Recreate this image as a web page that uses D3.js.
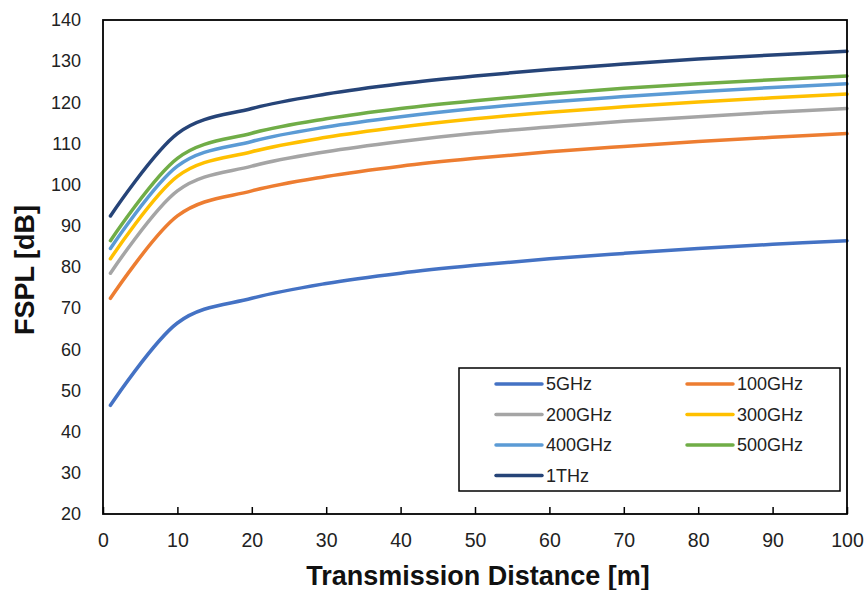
<!DOCTYPE html>
<html>
<head>
<meta charset="utf-8">
<script src="https://cdn.jsdelivr.net/npm/d3@7"></script>
<style>
  body { margin: 0; background: #fff; }
  text { font-family: "Liberation Sans", Arial, sans-serif; }
</style>
</head>
<body>
<svg width="867" height="590"></svg>
<script>
const distances = [1, 10, 20, 30, 40, 50, 60, 70, 80, 90, 100];

const seriesNames = ['5GHz', '100GHz', '200GHz', '300GHz', '400GHz', '500GHz', '1THz'];
const fspl5G   = [46.4, 66.4, 72.4, 76.0, 78.5, 80.4, 82.0, 83.3, 84.5, 85.5, 86.4];
const fspl100G = [72.4, 92.4, 98.5, 102.0, 104.5, 106.4, 108.0, 109.3, 110.5, 111.5, 112.4];
const fspl200G = [78.5, 98.5, 104.5, 108.0, 110.5, 112.5, 114.0, 115.4, 116.5, 117.6, 118.5];
const fspl300G = [82.0, 102.0, 108.0, 111.5, 114.0, 116.0, 117.6, 118.9, 120.1, 121.1, 122.0];
const fspl400G = [84.5, 104.5, 110.5, 114.0, 116.5, 118.5, 120.1, 121.4, 122.6, 123.6, 124.5];
const fspl500G = [86.4, 106.4, 112.5, 116.0, 118.5, 120.4, 122.0, 123.4, 124.5, 125.5, 126.4];
const fspl1T   = [92.4, 112.4, 118.5, 122.0, 124.5, 126.4, 128.0, 129.3, 130.5, 131.5, 132.4];

const xTicks = [0, 10, 20, 30, 40, 50, 60, 70, 80, 90, 100];
const yTicks = [20, 30, 40, 50, 60, 70, 80, 90, 100, 110, 120, 130, 140];

const colors = ['#4472C4', '#ED7D31', '#A5A5A5', '#FFC000', '#5B9BD5', '#70AD47', '#264478'];
const allSeries = [fspl5G, fspl100G, fspl200G, fspl300G, fspl400G, fspl500G, fspl1T];

const svg = d3.select('svg');
const plotL = 103, plotR = 847, plotT = 20, plotB = 514;

const x = d3.scaleLinear().domain([0, 100]).range([plotL, plotR]);
const y = d3.scaleLinear().domain([20, 140]).range([plotB, plotT]);

// lines (smoothed like excel)
const line = d3.line()
    .x(d => x(d[0]))
    .y(d => y(d[1]))
    .curve(d3.curveCardinal);

allSeries.forEach((vals, i) => {
    svg.append('path')
        .attr('d', line(distances.map((d, j) => [d, vals[j]])))
        .attr('fill', 'none')
        .attr('stroke', colors[i])
        .attr('stroke-width', 3.5)
        .attr('stroke-linecap', 'round');
});

// frame
svg.append('rect')
    .attr('x', plotL).attr('y', plotT)
    .attr('width', plotR - plotL).attr('height', plotB - plotT)
    .attr('fill', 'none')
    .attr('stroke', '#000')
    .attr('stroke-width', 1.8);

// x axis
const xAxis = svg.append('g')
    .attr('transform', `translate(0,${plotB})`)
    .call(d3.axisBottom(x).tickValues(xTicks).tickSizeInner(-7).tickSizeOuter(0).tickPadding(19));
xAxis.select('.domain').remove();
xAxis.selectAll('line').attr('stroke', '#000').attr('stroke-width', 1.5);
xAxis.selectAll('text').attr('font-size', 19.5).attr('fill', '#222');

// y axis
const yAxis = svg.append('g')
    .attr('transform', `translate(${plotL},0)`)
    .call(d3.axisLeft(y).tickValues(yTicks).tickSize(0).tickPadding(22));
yAxis.select('.domain').remove();
yAxis.selectAll('text').attr('font-size', 18).attr('fill', '#222');

// titles
svg.append('text')
    .attr('x', 478)
    .attr('y', 585)
    .attr('text-anchor', 'middle')
    .attr('font-size', 27)
    .attr('font-weight', 'bold')
    .attr('fill', '#111')
    .text('Transmission Distance [m]');

svg.append('text')
    .attr('transform', `translate(34,270) rotate(-90)`)
    .attr('text-anchor', 'middle')
    .attr('font-size', 27)
    .attr('font-weight', 'bold')
    .attr('fill', '#111')
    .text('FSPL [dB]');

// legend
const legend = svg.append('g');
legend.append('rect')
    .attr('x', 459).attr('y', 368)
    .attr('width', 381).attr('height', 123)
    .attr('fill', '#fff')
    .attr('stroke', '#000')
    .attr('stroke-width', 1.5);

seriesNames.forEach((name, i) => {
    const col = i % 2, row = Math.floor(i / 2);
    const lx = col === 0 ? 496 : 687;
    const ly = 384 + row * 30.5;
    legend.append('line')
        .attr('x1', lx).attr('x2', lx + 46)
        .attr('y1', ly).attr('y2', ly)
        .attr('stroke', colors[i])
        .attr('stroke-width', 3.5)
        .attr('stroke-linecap', 'round');
    legend.append('text')
        .attr('x', lx + 50)
        .attr('y', ly)
        .attr('dy', '0.36em')
        .attr('font-size', 18)
        .attr('fill', '#222')
        .text(name);
});
</script>
</body>
</html>
